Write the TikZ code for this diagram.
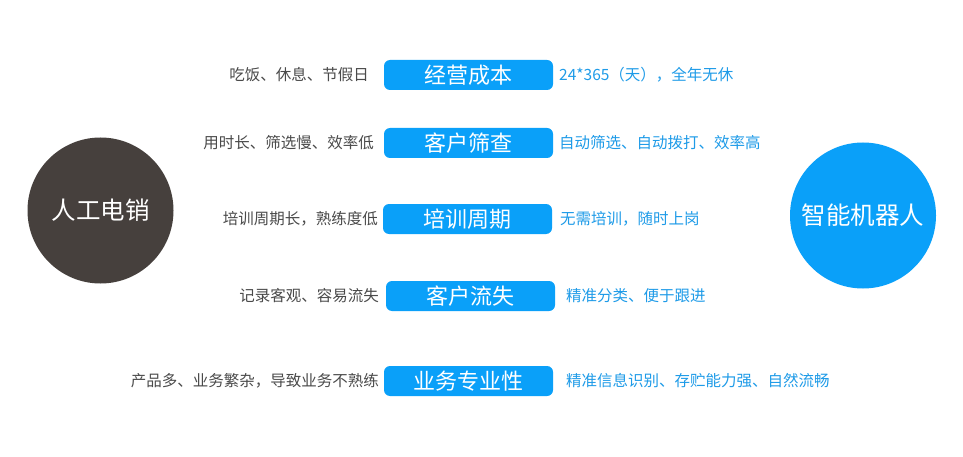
\documentclass[tikz,border=0pt]{standalone}
\usepackage{fontspec}
\setmainfont{Noto Sans CJK SC}
\definecolor{pillblue}{HTML}{0AA0F9}
\definecolor{darkc}{HTML}{46403D}
\definecolor{lefttxt}{HTML}{4A4A4A}
\definecolor{righttxt}{HTML}{1E9BE8}
\begin{document}
\begin{tikzpicture}[x=1pt,y=-1pt,
  pill/.style={fill=pillblue,rounded corners=6pt,minimum width=169pt,minimum height=30pt,inner sep=0pt,text=white,font=\fontsize{22}{24}\selectfont},
  lefttext/.style={anchor=east,inner sep=0pt,text=lefttxt,font=\fontsize{15.5}{17}\selectfont},
  righttext/.style={anchor=west,inner sep=0pt,text=righttxt,font=\fontsize{15.5}{17}\selectfont},
  bigcircle/.style={circle,minimum size=146pt,inner sep=0pt,text=white,font=\fontsize{24.5}{27}\selectfont}]
\useasboundingbox (0,0) rectangle (963,457);
\fill[white] (0,0) rectangle (963,457);
\node[bigcircle,fill=darkc] (human) at (100.5,210.5) {人工电销};
\node[bigcircle,fill=pillblue] (robot) at (863,215.5) {智能机器人};
\node[pill] (p1) at (468.5,75) {经营成本};
\node[pill] (p2) at (468.5,143) {客户筛查};
\node[pill] (p3) at (467.5,219) {培训周期};
\node[pill] (p4) at (470.5,296) {客户流失};
\node[pill] (p5) at (468.5,381) {业务专业性};
\node[lefttext] (l1) at (369,75) {吃饭、休息、节假日};
\node[lefttext] (l2) at (374,143) {用时长、筛选慢、效率低};
\node[lefttext] (l3) at (378,219) {培训周期长，熟练度低};
\node[lefttext] (l4) at (379,296) {记录客观、容易流失};
\node[lefttext] (l5) at (379,381) {产品多、业务繁杂，导致业务不熟练};
\node[righttext] (r1) at (559,75) {24*365（天），全年无休};
\node[righttext] (r2) at (559,143) {自动筛选、自动拨打、效率高};
\node[righttext] (r3) at (560,219) {无需培训，随时上岗};
\node[righttext] (r4) at (566,296) {精准分类、便于跟进};
\node[righttext] (r5) at (566,381) {精准信息识别、存贮能力强、自然流畅};
\end{tikzpicture}
\end{document}
